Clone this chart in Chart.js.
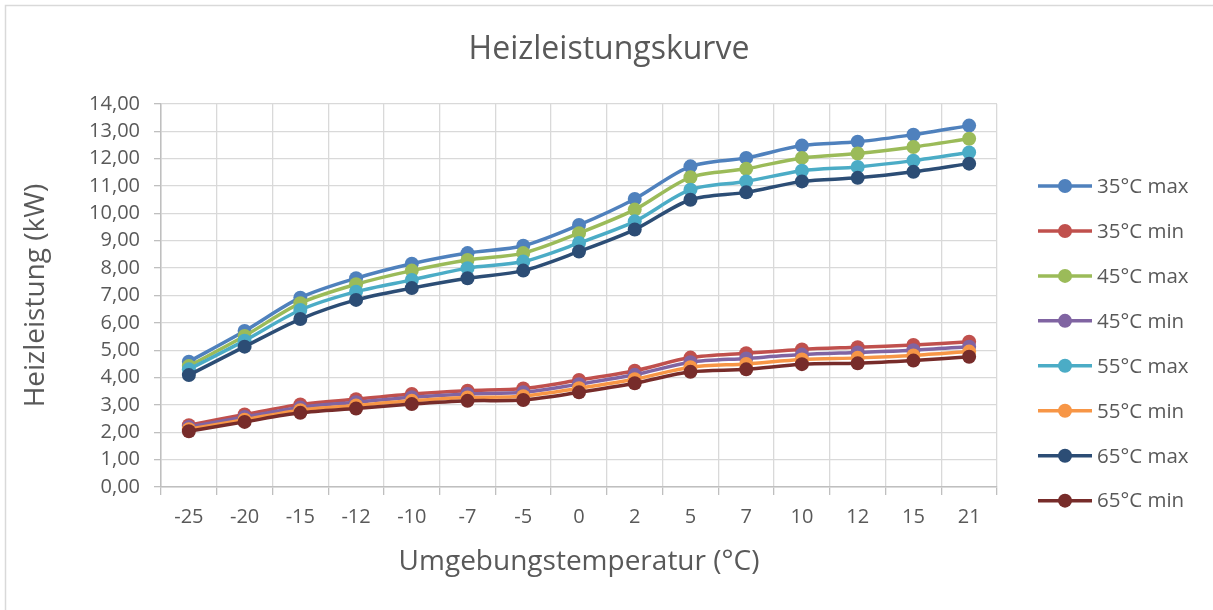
<!DOCTYPE html>
<html lang="de">
<head>
<meta charset="utf-8">
<title>Heizleistungskurve</title>
<script src="https://cdn.jsdelivr.net/npm/chart.js@4"></script>
<style>
    html, body { margin: 0; padding: 0; background: #fff; }
    #wrap { position: relative; width: 1213px; height: 610px; }
</style>
</head>
<body>
<div id="wrap"><canvas id="heatChart"></canvas></div>
<script>
// Umgebungstemperatur (°C)
const temps = ['-25', '-20', '-15', '-12', '-10', '-7', '-5', '0', '2', '5', '7', '10', '12', '15', '21'];

// Heizleistung (kW)
const max35 = [4.58, 5.70, 6.92, 7.63, 8.16, 8.55, 8.82, 9.58, 10.53, 11.72, 12.03, 12.48, 12.62, 12.88, 13.21];
const min35 = [2.26, 2.65, 3.02, 3.21, 3.40, 3.52, 3.60, 3.91, 4.25, 4.73, 4.89, 5.03, 5.11, 5.19, 5.31];
const max45 = [4.42, 5.52, 6.72, 7.41, 7.91, 8.30, 8.55, 9.28, 10.14, 11.32, 11.63, 12.03, 12.19, 12.43, 12.73];
const min45 = [2.19, 2.56, 2.91, 3.10, 3.28, 3.40, 3.46, 3.76, 4.10, 4.56, 4.70, 4.84, 4.92, 5.00, 5.13];
const max55 = [4.30, 5.35, 6.47, 7.14, 7.57, 8.00, 8.24, 8.92, 9.71, 10.87, 11.17, 11.56, 11.70, 11.93, 12.23];
const min55 = [2.11, 2.46, 2.81, 2.98, 3.15, 3.27, 3.32, 3.61, 3.94, 4.38, 4.50, 4.66, 4.72, 4.81, 4.95];
const max65 = [4.09, 5.13, 6.14, 6.84, 7.27, 7.63, 7.91, 8.61, 9.41, 10.50, 10.77, 11.17, 11.30, 11.52, 11.82];
const min65 = [2.04, 2.38, 2.71, 2.87, 3.03, 3.15, 3.18, 3.46, 3.79, 4.21, 4.30, 4.49, 4.52, 4.62, 4.76];

const seriesNames = ['35°C max', '35°C min', '45°C max', '45°C min', '55°C max', '55°C min', '65°C max', '65°C min'];
const seriesData = [max35, min35, max45, min45, max55, min55, max65, min65];
const seriesColors = ['#4F81BD', '#C0504D', '#9BBB59', '#8064A2', '#4BACC6', '#F79646', '#2C4D75', '#772C2A'];

const chartTitle = 'Heizleistungskurve';

const FONT = "'Open Sans', 'DejaVu Sans', sans-serif";
const TEXT = '#595959';

const datasets = seriesNames.map(function (name, i) {
    return {
        label: name,
        data: seriesData[i],
        borderColor: seriesColors[i],
        backgroundColor: seriesColors[i],
        pointBackgroundColor: seriesColors[i],
        pointBorderWidth: 0,
        pointRadius: 7,
        borderWidth: 3.5,
        tension: 0.3,
        fill: false,
        order: seriesNames.length - i   // later series on top, like Excel
    };
});

// frame, title (centred on the whole canvas) and legend drawn by hand
const framePlugin = {
    id: 'frame',
    beforeDraw(chart) {
        const ctx = chart.ctx;
        ctx.save();
        ctx.fillStyle = '#fff';
        ctx.fillRect(0, 0, chart.width, chart.height);
        ctx.strokeStyle = '#d9d9d9';
        ctx.lineWidth = 1.5;
        ctx.strokeRect(5.5, 5.5, chart.width + 20, chart.height + 20);
        ctx.restore();
    },
    afterDraw(chart) {
        const ctx = chart.ctx;
        ctx.save();
        ctx.fillStyle = TEXT;
        ctx.font = '32px ' + FONT;
        ctx.textAlign = 'center';
        ctx.textBaseline = 'middle';
        ctx.fillText(chartTitle, 609, 50);

        const x0 = 1038, x1 = 1092, mx = 1065, tx = 1097;
        ctx.font = '20.5px ' + FONT;
        ctx.textAlign = 'left';
        chart.data.datasets.forEach(function (ds, i) {
            const y = 186 + i * 44.95;
            ctx.strokeStyle = ds.borderColor;
            ctx.lineWidth = 3.5;
            ctx.beginPath();
            ctx.moveTo(x0, y);
            ctx.lineTo(x1, y);
            ctx.stroke();
            ctx.fillStyle = ds.borderColor;
            ctx.beginPath();
            ctx.arc(mx, y, 7, 0, Math.PI * 2);
            ctx.fill();
            ctx.fillStyle = TEXT;
            ctx.fillText(ds.label, tx, y + 1);
        });
        ctx.restore();
    }
};

new Chart(document.getElementById('heatChart').getContext('2d'), {
    type: 'line',
    data: {
        labels: temps,
        datasets: datasets
    },
    plugins: [framePlugin],
    options: {
        responsive: true,
        maintainAspectRatio: false,
        animation: false,
        layout: {
            padding: { left: 10, right: 216, top: 104, bottom: 0 }
        },
        plugins: {
            legend: { display: false },
            tooltip: { enabled: false },
            title: { display: false }
        },
        scales: {
            x: {
                offset: true,
                grid: {
                    offset: true,
                    color: '#d9d9d9',
                    lineWidth: 1.3,
                    tickLength: 8,
                    tickColor: '#bfbfbf'
                },
                border: { color: '#bfbfbf', width: 1.5 },
                ticks: {
                    color: TEXT,
                    font: { family: FONT, size: 20 },
                    padding: 10,
                    maxRotation: 0,
                    autoSkip: false
                },
                title: {
                    display: true,
                    text: 'Umgebungstemperatur (°C)',
                    color: TEXT,
                    font: { family: FONT, size: 28 },
                    padding: { top: 0, bottom: 31 }
                },
                afterFit: function (scale) { scale.height = 123; }
            },
            y: {
                min: 0,
                max: 14,
                grid: {
                    color: '#d9d9d9',
                    lineWidth: 1.3,
                    tickLength: 7,
                    tickColor: '#bfbfbf'
                },
                border: { color: '#bfbfbf', width: 1.5 },
                ticks: {
                    stepSize: 1,
                    color: TEXT,
                    font: { family: FONT, size: 20 },
                    padding: 14,
                    callback: function (v) { return v.toFixed(2).replace('.', ','); }
                },
                title: {
                    display: true,
                    text: 'Heizleistung (kW)',
                    color: TEXT,
                    font: { family: FONT, size: 28 },
                    padding: { top: 9, bottom: 0 }
                },
                afterFit: function (scale) { scale.width = 151; }
            }
        }
    }
});
</script>
</body>
</html>
